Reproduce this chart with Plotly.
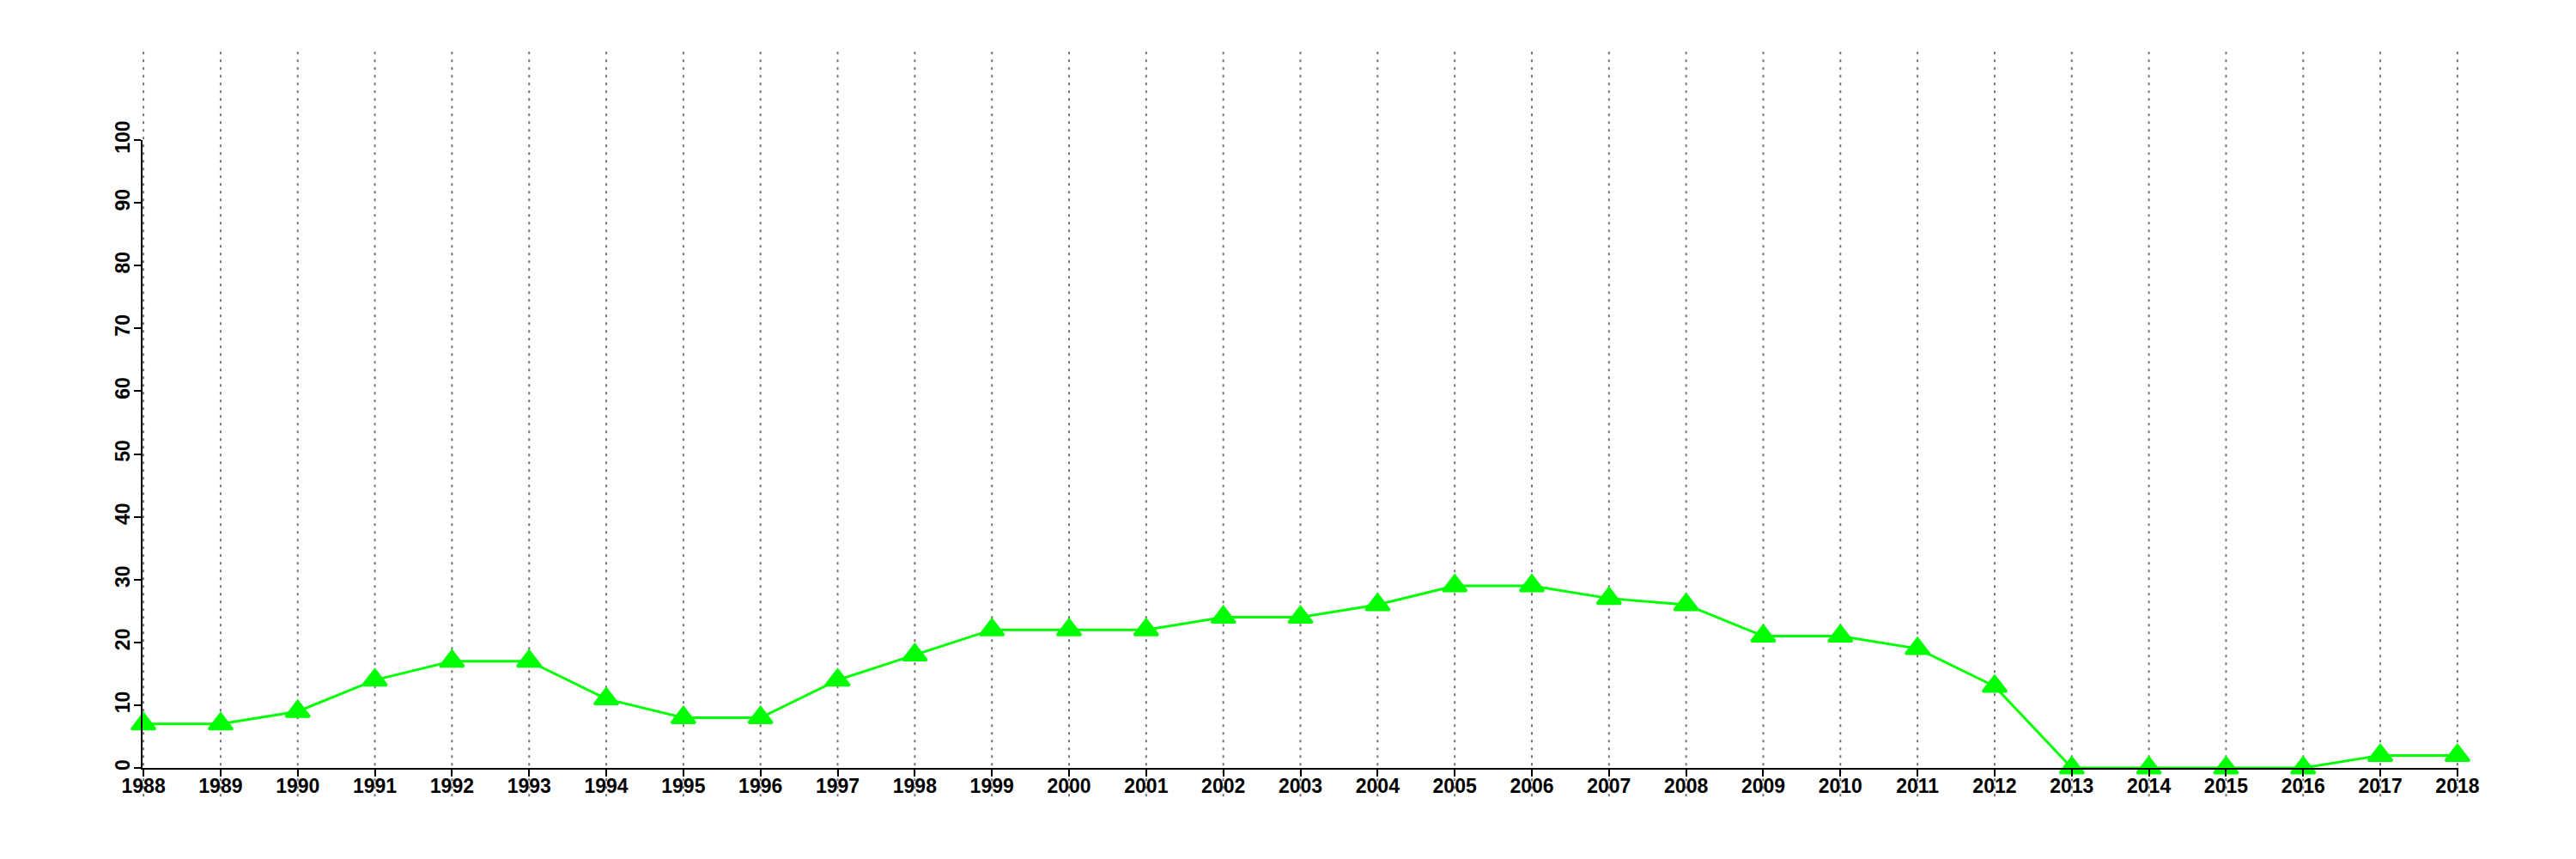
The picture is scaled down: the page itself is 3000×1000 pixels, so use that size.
import plotly.graph_objects as go

years = list(range(1988, 2019))
values = [7, 7, 9, 14, 17, 17, 11, 8, 8, 14, 18, 22, 22, 22, 24, 24, 26, 29, 29, 27, 26,
          21, 21, 19, 13, 0, 0, 0, 0, 2, 2]
y_ticks = list(range(0, 101, 10))

fig = go.Figure()
fig.add_trace(go.Scatter(
    x=years, y=values, mode="lines+markers",
    line=dict(color="#00ff00", width=3),
    marker=dict(symbol="triangle-up", size=24, color="#00ff00",
                line=dict(color="#00ff00", width=3)),
    cliponaxis=False, showlegend=False, hoverinfo="x+y",
))

for yr in years:
    fig.add_shape(type="line", xref="x", yref="paper", x0=yr, x1=yr,
                  y0=-0.0456, y1=1.1414, layer="below",
                  line=dict(color="#737373", width=2, dash="3px,6px"))

tickfont = dict(family="Liberation Sans, Arial, sans-serif", size=23, color="black", weight="bold")
fig.update_layout(
    width=3000, height=1000,
    margin=dict(l=158, r=145, t=155, b=114),
    paper_bgcolor="white", plot_bgcolor="white",
    xaxis=dict(range=[1988 - 0.012, 2018 + 0.012], tickmode="array", tickvals=years,
               ticktext=[str(y) for y in years], showgrid=False, zeroline=False,
               showline=True, linecolor="black", linewidth=2,
               ticks="outside", ticklen=8, tickwidth=2, tickcolor="black",
               ticklabelstandoff=-9, tickfont=tickfont),
    yaxis=dict(range=[0, 100], tickmode="array", tickvals=y_ticks,
               ticktext=[str(v) for v in y_ticks], showgrid=False, zeroline=False,
               showline=True, linecolor="black", linewidth=2,
               ticks="outside", ticklen=8, tickwidth=2, tickcolor="black",
               ticklabelstandoff=-4, tickangle=-90, tickfont=tickfont),
)

fig.write_html("out.html")
